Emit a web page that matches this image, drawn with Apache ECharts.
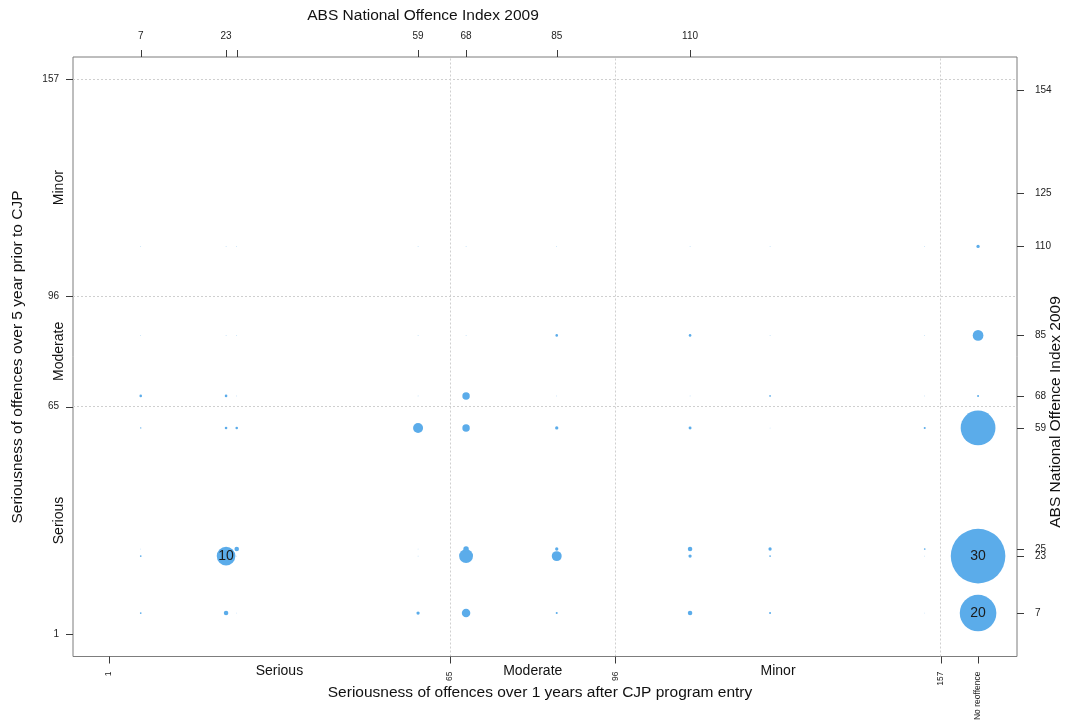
<!DOCTYPE html>
<html>
<head>
<meta charset="utf-8">
<title>Seriousness of offences before and after CJP entry</title>
<script src="https://cdn.jsdelivr.net/npm/echarts@6/dist/echarts.min.js"></script>
<style>
  html, body { margin: 0; padding: 0; background: #ffffff; }
  #chart { width: 1069px; height: 727px; }
</style>
</head>
<body>
<div id="chart"></div>
<script>
// Offence index columns (after entry); 164 is the "No reoffence" slot
const afterIndex = [7, 23, 25, 59, 68, 85, 110, 125, 154, 164];
// Offence index rows (prior to entry)
const priorIndex = [7, 23, 25, 59, 68, 85, 110];

// Share of people (%) per cell, one array per prior-offence row, in afterIndex order
const prior7   = [0.6, 2.2, 0,   1.5, 4.4, 0.8, 2.2, 0.8, 0,   20];
const prior23  = [0.6, 10,  0,   0,   7.4, 5.2, 1.5, 0.6, 0,   30];
const prior25  = [0,   0,   2.2, 0,   2.7, 1.5, 2.2, 1.5, 0.6, 0];
const prior59  = [0.4, 1.1, 1.1, 5.2, 3.8, 1.5, 1.3, 0,   0.8, 19];
const prior68  = [1.1, 1.1, 0,   0,   3.8, 0,   0,   0.6, 0,   0.8];
const prior85  = [0,   0,   0,   0,   0,   1.1, 1.1, 0,   0,   5.6];
const prior110 = [0,   0,   0,   0,   0,   0,   0,   0,   0,   1.5];
const rows = [prior7, prior23, prior25, prior59, prior68, prior85, prior110];

// Cells whose value is printed on the bubble: [after, prior]
const labelledCells = [[23, 23], [164, 23], [164, 7]];

// Axis ticks and band labels
const bottomTicks = [1, 65, 96, 157, 164];
const bandNames = ['Serious', 'Moderate', 'Minor'];
const bandCentres = [33, 80.5, 126.5];
const leftTicks = [1, 65, 96, 157];
const topTicks = [7, 23, 25, 59, 68, 85, 110];
const topLabels = [7, 23, 59, 68, 85, 110];
const rightTicks = [7, 23, 25, 59, 68, 85, 110, 125, 154];
const bandBreaks = [65, 96, 157];

const FONT = '"Liberation Sans", Arial, Helvetica, sans-serif';
const BLUE = '#5BACEA';
const TICK_COLOR = '#3a3a3a';
const TICK_LEN = 7;
const X_MIN = -5.7, X_MAX = 171.3;
const Y_MIN = -5.2, Y_MAX = 163.2;

const points = [];
rows.forEach((row, ri) => {
  row.forEach((v, ci) => {
    const x = afterIndex[ci], y = priorIndex[ri];
    const show = labelledCells.some(c => c[0] === x && c[1] === y);
    points.push({ value: [x, y, v], label: { show: show } });
  });
});

const bandName = v => bandNames[bandCentres.indexOf(v)];

// Outward tick marks drawn through the cartesian scale; dir = [dx, dy] pointing away from the box
function tickSeries(data, dir) {
  return {
    type: 'custom',
    xAxisIndex: 0, yAxisIndex: 0,
    silent: true,
    clip: false,
    z: 5,
    data: data,
    renderItem: (params, api) => {
      const p = api.coord([api.value(0), api.value(1)]);
      const x = dir[0] === 0 ? Math.round(p[0]) + 0.5 : p[0];
      const y = dir[1] === 0 ? Math.round(p[1]) + 0.5 : p[1];
      return {
        type: 'line',
        shape: { x1: x, y1: y, x2: x + dir[0] * TICK_LEN, y2: y + dir[1] * TICK_LEN },
        style: { stroke: TICK_COLOR, lineWidth: 1 }
      };
    }
  };
}

const hiddenTick = { show: false };

const chart = echarts.init(document.getElementById('chart'), null, { renderer: 'canvas' });
chart.setOption({
  animation: false,
  backgroundColor: '#ffffff',
  textStyle: { fontFamily: FONT },
  grid: {
    left: 73, right: 52, top: 57, bottom: 70.5,
    show: true, borderColor: '#7d7d7d', borderWidth: 1, backgroundColor: 'transparent'
  },
  xAxis: [
    {
      type: 'value', position: 'bottom', min: X_MIN, max: X_MAX,
      axisLine: { show: false }, splitLine: { show: false }, axisTick: hiddenTick,
      axisLabel: {
        customValues: bottomTicks, rotate: 90, margin: 15, fontSize: 8.5, color: '#222',
        fontFamily: FONT, formatter: v => (v === 164 ? 'No reoffence' : String(v))
      }
    },
    {
      type: 'value', position: 'bottom', min: X_MIN, max: X_MAX,
      axisLine: { show: false }, splitLine: { show: false }, axisTick: hiddenTick,
      axisLabel: {
        customValues: bandCentres, margin: 8, fontSize: 14, color: '#111',
        fontFamily: FONT, formatter: bandName
      }
    },
    {
      type: 'value', position: 'top', min: X_MIN, max: X_MAX,
      axisLine: { show: false }, splitLine: { show: false }, axisTick: hiddenTick,
      axisLabel: { customValues: topLabels, margin: 16, fontSize: 10, color: '#222', fontFamily: FONT }
    }
  ],
  yAxis: [
    {
      type: 'value', position: 'left', min: Y_MIN, max: Y_MAX,
      axisLine: { show: false }, splitLine: { show: false }, axisTick: hiddenTick,
      axisLabel: { customValues: leftTicks, margin: 14, fontSize: 10, color: '#222', fontFamily: FONT }
    },
    {
      type: 'value', position: 'left', min: Y_MIN, max: Y_MAX,
      axisLine: { show: false }, splitLine: { show: false }, axisTick: hiddenTick,
      axisLabel: {
        customValues: bandCentres, rotate: 90, margin: 7, fontSize: 14, color: '#111',
        fontFamily: FONT, formatter: bandName
      }
    },
    {
      type: 'value', position: 'right', min: Y_MIN, max: Y_MAX,
      axisLine: { show: false }, splitLine: { show: false }, axisTick: hiddenTick,
      axisLabel: { customValues: rightTicks, margin: 18, fontSize: 10, color: '#222', fontFamily: FONT }
    }
  ],
  series: [
    {
      type: 'scatter',
      xAxisIndex: 0, yAxisIndex: 0,
      silent: true,
      z: 1,
      data: [],
      markLine: {
        silent: true, symbol: 'none', animation: false,
        label: { show: false },
        lineStyle: { color: '#cfcfcf', width: 1, type: [2, 2] },
        data: bandBreaks.map(v => ({ xAxis: v })).concat(bandBreaks.map(v => ({ yAxis: v })))
      }
    },
    tickSeries(bottomTicks.map(v => [v, Y_MIN]), [0, 1]),
    tickSeries(topTicks.map(v => [v, Y_MAX]), [0, -1]),
    tickSeries(leftTicks.map(v => [X_MIN, v]), [-1, 0]),
    tickSeries(rightTicks.map(v => [X_MAX, v]), [1, 0]),
    {
      type: 'scatter',
      xAxisIndex: 0, yAxisIndex: 0,
      z: 3,
      data: points,
      symbol: 'circle',
      symbolSize: d => 2 * (0.9 * d[2] + 0.3),
      itemStyle: { color: BLUE, opacity: 1 },
      label: {
        show: false, position: 'inside', fontSize: 14, color: '#1b1b1b', fontFamily: FONT,
        formatter: p => String(p.value[2])
      }
    }
  ],
  graphic: [
    {
      type: 'text', x: 423, y: 16,
      style: { text: 'ABS National Offence Index 2009', font: '15.5px ' + FONT, fill: '#111', align: 'center', verticalAlign: 'middle' }
    },
    {
      type: 'text', x: 540, y: 693,
      style: { text: 'Seriousness of offences over 1 years after CJP program entry', font: '15.5px ' + FONT, fill: '#111', align: 'center', verticalAlign: 'middle' }
    },
    {
      type: 'text', x: 18, y: 357, rotation: Math.PI / 2,
      style: { text: 'Seriousness of offences over 5 year prior to CJP', font: '15.5px ' + FONT, fill: '#111', align: 'center', verticalAlign: 'middle' }
    },
    {
      type: 'text', x: 1056, y: 412, rotation: Math.PI / 2,
      style: { text: 'ABS National Offence Index 2009', font: '15.5px ' + FONT, fill: '#111', align: 'center', verticalAlign: 'middle' }
    }
  ]
});
</script>
</body>
</html>
